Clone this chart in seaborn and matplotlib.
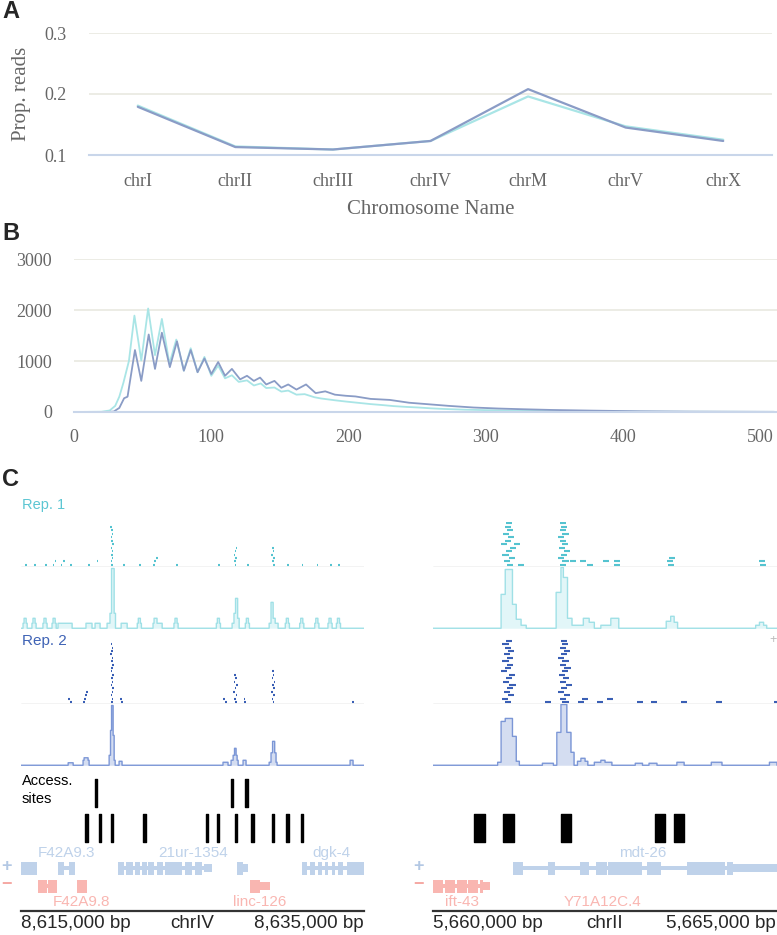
import numpy as np
import pandas as pd
import matplotlib
matplotlib.use("Agg")
import matplotlib.pyplot as plt
import seaborn as sns

sns.set_style("white")
plt.rcParams["font.family"] = ["Liberation Sans", "DejaVu Sans"]

# ---------------- Panel A data ----------------
chromosomes = ["chrI", "chrII", "chrIII", "chrIV", "chrM", "chrV", "chrX"]
prop_rep1 = [0.181, 0.114, 0.109, 0.123, 0.196, 0.147, 0.125]
prop_rep2 = [0.179, 0.113, 0.109, 0.123, 0.208, 0.145, 0.123]
prop_ticks = [0.1, 0.2, 0.3]

# ---------------- Panel B data ----------------
frag_len_rep1 = [0, 20, 26, 30, 33, 36, 40, 44, 49, 54, 59, 64, 69.5, 74.5, 80, 85, 90, 95, 100,
                 105, 110, 115, 120, 126, 131, 136, 140, 146, 151, 156, 162, 168, 175, 180, 190,
                 198, 207, 216, 225, 233, 242, 251, 260, 269, 285, 305, 320, 341, 360, 380, 400,
                 420, 450, 480, 510]
frag_cnt_rep1 = [0, 5, 30, 120, 300, 575, 1000, 1890, 1010, 2030, 1115, 1825, 945, 1420, 810, 1250,
                 780, 1080, 710, 910, 660, 720, 590, 620, 520, 560, 470, 480, 400, 420, 340, 350,
                 290, 265, 230, 205, 180, 155, 135, 115, 100, 88, 72, 60, 45, 34, 26, 20, 15, 11,
                 8, 6, 5, 4, 3]
frag_len_rep2 = [0, 25, 29, 33, 36.5, 39, 41, 44.4, 49, 54.4, 59, 64, 69.8, 75, 80, 85, 90, 95, 100,
                 105, 110, 115, 121, 126, 131, 135.5, 140, 146, 151, 156, 162, 169, 176, 183, 190,
                 198, 205, 216, 230, 244, 259, 273, 291, 309, 327, 348, 377, 413, 448, 480, 510]
frag_cnt_rep2 = [0, 0, 10, 80, 270, 300, 640, 1215, 610, 1520, 845, 1555, 880, 1385, 810, 1215, 780,
                 1050, 745, 980, 710, 845, 640, 710, 610, 675, 540, 610, 475, 540, 440, 540, 370,
                 405, 340, 318, 305, 257, 237, 182, 150, 120, 88, 68, 54, 40, 27, 14, 7, 5, 3]
frag_ticks = [0, 100, 200, 300, 400, 500]
count_ticks = [0, 1000, 2000, 3000]

# ---------------- Panel C data ----------------
left_chrom, left_start, left_end = "chrIV", 8615000, 8635000
right_chrom, right_start, right_end = "chrII", 5660000, 5665000
read_len = 90

# reads: (offset bp, stack row)
left_rep1_reads = [(233, 0), (758, 0), (1399, 0), (1860, 0), (1960, 1), (2315, 0), (2467, 1),
                   (2857, 0), (3924, 0), (4414, 1), (5970, 0), (6900, 0), (7700, 0), (7760, 1),
                   (7880, 2), (9040, 0), (11500, 0), (13200, 0), (15530, 0), (16370, 0),
                   (17240, 0), (18020, 0), (18500, 0)]
left_rep1_stacks = [[5270, 5230, 5300, 5250, 5280, 5220, 5310, 5260, 5240, 5290, 5250, 5210],
                    [12470, 12430, 12500, 12410, 12450, 12520],
                    [14700, 14640, 14720, 14600, 14680, 14650]]
left_rep2_reads = [(2860, 0), (2760, 1), (3620, 0), (3700, 1), (3760, 2), (3800, 3), (5830, 0),
                   (5780, 1), (11900, 0), (11790, 1), (13030, 0), (12990, 1), (19300, 0)]
left_rep2_stacks = [[5250, 5300, 5220, 5280, 5330, 5240, 5290, 5260, 5310, 5230, 5270, 5320,
                     5250, 5290, 5210, 5260, 5300, 5240],
                    [12480, 12420, 12520, 12380, 12460, 12540, 12400, 12500, 12440],
                    [14680, 14620, 14720, 14600, 14700, 14650, 14740, 14630, 14690, 14660]]
right_rep1_reads = [(1177, 6), (1235, 0), (1991, 1), (2137, 1), (2238, 0), (2471, 1), (2631, 0),
                    (2631, 1), (3416, 0), (3400, 1), (3430, 2), (4753, 0), (4740, 1)]
right_rep1_stacks = [[1080, 1030, 1100, 1010, 1060, 1120, 990, 1050, 1090, 1020, 1070, 1040, 1060],
                     [1840, 1880, 1820, 1860, 1900, 1830, 1870, 1850, 1810, 1880, 1840, 1860, 1850]]
right_rep2_reads = [(1628, 0), (2108, 0), (2170, 1), (2384, 0), (2529, 1), (2965, 0), (3169, 0),
                    (3605, 0), (4113, 0), (4956, 0)]
right_rep2_stacks = [[1050, 1000, 1090, 1030, 1070, 1110, 1020, 1060, 1100, 990, 1040, 1080, 1010,
                      1070, 1030, 1090, 1050, 1010, 1060],
                     [1880, 1840, 1900, 1820, 1860, 1930, 1850, 1890, 1830, 1870, 1910, 1850, 1880,
                      1820, 1860, 1900, 1840, 1870, 1860]]

# coverage: (start offset, end offset, value)
left_rep1_single = [233, 758, 1399, 1924, 6898, 9038, 11505, 13196, 15528, 16368, 17242, 18018, 18502]
left_rep1_cov = [(2157, 2974, 1), (3790, 4140, 1), (4315, 4606, 1), (5015, 5190, 1), (5190, 5277, 3),
                 (5277, 5423, 12), (5423, 5510, 3), (5831, 6181, 1), (7697, 8222, 1), (7755, 7930, 2),
                 (12303, 12420, 1), (12420, 12507, 3), (12507, 12624, 6), (12624, 12712, 2),
                 (14461, 14578, 1), (14578, 14694, 5.2), (14694, 14811, 2), (14811, 14986, 1)]
left_rep2_cov = [(2741, 3032, 0.5), (3615, 3965, 1), (3674, 3907, 1.5), (5131, 5219, 2),
                 (5219, 5277, 7), (5277, 5365, 12), (5365, 5423, 6), (5423, 5481, 1),
                 (5714, 5889, 0.8), (11779, 12070, 0.6), (12245, 12653, 1), (12362, 12595, 2),
                 (12449, 12537, 3.4), (12945, 13120, 1), (14461, 14927, 0.6), (14578, 14869, 2.5),
                 (14665, 14781, 4.8), (19184, 19359, 1)]
right_rep1_cov = [(988, 1047, 6.8), (1047, 1153, 11.8), (1153, 1206, 4.8), (1206, 1279, 1.8),
                  (1279, 1352, 0.6), (1788, 1856, 7.2), (1856, 1894, 12.2), (1894, 1952, 10.2),
                  (1952, 2016, 2), (2016, 2185, 0.6), (2185, 2267, 2), (2267, 2344, 1.2),
                  (2438, 2583, 0.6), (2583, 2699, 2), (3387, 3455, 1.4), (3455, 3503, 2.4),
                  (3503, 3551, 1.2), (4690, 4743, 0.6), (4743, 4801, 1.2), (4801, 4850, 0.6)]
right_rep2_cov = [(940, 988, 0.6), (988, 1047, 8.8), (1047, 1153, 9.4), (1153, 1206, 5.8),
                  (1206, 1254, 0.8), (1589, 1749, 0.4), (1798, 1856, 6.6), (1856, 1943, 12.2),
                  (1943, 2001, 6.6), (2001, 2049, 2.6), (2097, 2147, 0.8), (2147, 2209, 1.4),
                  (2209, 2249, 0.8), (2344, 2438, 0.6), (2438, 2500, 1), (2500, 2597, 0.6),
                  (2936, 3042, 0.4), (3140, 3252, 0.4), (3542, 3648, 0.6), (4041, 4196, 0.6),
                  (4888, 5000, 0.6)]

# accessible sites: (start offset, end offset)
left_sites_top = [(4290, 4460), (12220, 12390), (13090, 13260)]
left_sites_bottom = [(3760, 3930), (4520, 4690), (5220, 5390), (7140, 7310), (10760, 10930),
                     (11400, 11570), (12450, 12620), (13440, 13610), (14610, 14780),
                     (15430, 15600), (16300, 16470)]
right_sites_top = []
right_sites_bottom = [(596, 756), (1017, 1177), (1860, 2006), (3227, 3372), (3503, 3648)]

# gene models: (strand, exons, utrs)
left_genes = [
    ("+", [(0, 930)], []),
    ("+", [(2160, 2500), (2800, 3150)], []),
    ("+", [(5656, 6006), (6123, 6531), (6648, 6939), (7056, 7347), (7405, 7755), (7930, 8280),
           (8397, 9388), (9563, 9971), (10146, 10554)], [(10671, 11137)]),
    ("+", [(12595, 12945)], [(12945, 13236)]),
    ("+", [(16385, 16677), (16852, 17143), (17317, 17551), (17726, 17901), (18134, 18309),
           (18484, 18776), (19009, 20000)], []),
    ("-", [(991, 1516), (1574, 2099)], []),
    ("-", [(3265, 3848)], []),
    ("-", [(13353, 13936)], [(13936, 14519)]),
]
right_genes = [
    ("+", [(1163, 1308), (1672, 1773), (2137, 2267), (2369, 2529), (2544, 3038), (3110, 3314),
           (3692, 4244), (4273, 4361)], [(4361, 5000)]),
    ("-", [(0, 145), (174, 320), (349, 494), (509, 654), (683, 727)], [(727, 828)]),
]
left_gene_labels = [("F42A9.3", "+", 2680), ("21ur-1354", "+", 10030), ("dgk-4", "+", 18130),
                    ("F42A9.8", "-", 3500), ("linc-126", "-", 13940)]
right_gene_labels = [("mdt-26", "+", 3052), ("ift-43", "-", 422), ("Y71A12C.4", "-", 2471)]

# ---------------- styling ----------------
C_REP1 = "#a9e5e6"
C_REP2 = "#8a9cc6"
GRID = "#ebebe3"
AXC = "#c9d6ea"
TXT = "#666666"
SERIF = "Liberation Serif"
READ1, READ2 = "#55c3d0", "#3a5fb5"
COV1_F, COV1_E = "#e2f6f8", "#9fe0e6"
COV2_F, COV2_E = "#d4ddf1", "#7b96d6"
PLUS_C, MINUS_C = "#bfd2ea", "#f9b6b1"

W, H = 777, 935
fig = plt.figure(figsize=(W / 100, H / 100), dpi=100)


def ax_px(x0, y0, x1, y1):
    return fig.add_axes([x0 / W, 1 - y1 / H, (x1 - x0) / W, (y1 - y0) / H])


# ---------------- Panel A ----------------
axA = ax_px(89, 33, 772, 155)
dfA = pd.DataFrame({
    "idx": list(range(len(chromosomes))) * 2,
    "prop": prop_rep1 + prop_rep2,
    "rep": ["Rep1"] * len(chromosomes) + ["Rep2"] * len(chromosomes),
})
sns.lineplot(data=dfA, x="idx", y="prop", hue="rep", palette={"Rep1": C_REP1, "Rep2": C_REP2},
             ax=axA, legend=False, lw=1.6)
axA.set_xlim(-0.5, len(chromosomes) - 0.5)
axA.set_ylim(prop_ticks[0], prop_ticks[-1])
axA.set_xticks(range(len(chromosomes)))
axA.set_xticklabels(chromosomes, family=SERIF)
axA.set_xticks(np.arange(-0.5, len(chromosomes), 1), minor=True)
axA.set_yticks(prop_ticks)
axA.set_yticklabels([f"{t:.1f}" for t in prop_ticks], family=SERIF)
axA.tick_params(axis="x", which="major", length=0, pad=13, labelsize=13, labelcolor=TXT)
axA.tick_params(axis="x", which="minor", length=9.5, width=1.1, color=AXC)
axA.tick_params(axis="y", length=0, pad=16, labelsize=13, labelcolor=TXT)
for s in ["left", "top", "right"]:
    axA.spines[s].set_visible(False)
axA.spines["bottom"].set_color(AXC)
axA.spines["bottom"].set_linewidth(1.5)
axA.grid(axis="y", color=GRID, lw=1.3)
axA.set_axisbelow(True)
axA.set_xlabel("Chromosome Name", family=SERIF, fontsize=15, color=TXT)
axA.xaxis.set_label_coords(0.5, -(210 - 155) / (155 - 33))
axA.xaxis.label.set_va("center")
axA.set_ylabel("Prop. reads", family=SERIF, fontsize=15, color=TXT)
axA.yaxis.set_label_coords(-(89 - 22) / (772 - 89), 0.5)
axA.yaxis.label.set_va("center")

# ---------------- Panel B ----------------
axB = ax_px(74, 259, 777, 412)
dfB = pd.DataFrame({
    "len": frag_len_rep1 + frag_len_rep2,
    "cnt": frag_cnt_rep1 + frag_cnt_rep2,
    "rep": ["Rep1"] * len(frag_len_rep1) + ["Rep2"] * len(frag_len_rep2),
})
sns.lineplot(data=dfB, x="len", y="cnt", hue="rep", palette={"Rep1": C_REP1, "Rep2": C_REP2},
             ax=axB, legend=False, lw=1.3)
axB.set_xlim(0, 512)
axB.set_ylim(count_ticks[0], count_ticks[-1])
axB.set_xticks(frag_ticks)
axB.set_xticklabels([str(t) for t in frag_ticks], family=SERIF)
axB.set_yticks(count_ticks)
axB.set_yticklabels([str(t) for t in count_ticks], family=SERIF)
axB.tick_params(axis="x", length=9.5, width=1.1, color=AXC, pad=3, labelsize=13, labelcolor=TXT)
axB.tick_params(axis="y", length=0, pad=16, labelsize=13, labelcolor=TXT)
for s in ["left", "top", "right"]:
    axB.spines[s].set_visible(False)
axB.spines["bottom"].set_color(AXC)
axB.spines["bottom"].set_linewidth(1.5)
axB.grid(axis="y", color=GRID, lw=1.3)
axB.set_axisbelow(True)
axB.set_xlabel("")
axB.set_ylabel("")

# ---------------- Panel letters ----------------
for letter, ypx in [("A", 12), ("B", 233), ("C", 479)]:
    fig.text(2 / W, 1 - ypx / H, letter, fontsize=17, fontweight="bold", va="center", ha="left")


# ---------------- Panel C ----------------
def coverage_profile(segments, span, step):
    x = np.arange(0, span + step, step)
    y = np.zeros(len(x))
    for s, e, v in segments:
        m = (x >= s) & (x < e)
        y[m] = np.maximum(y[m], v)
    return x, y


def draw_reads(ax, start, span, reads, stacks, color, nrows):
    allreads = list(reads)
    for st in stacks:
        allreads += [(p, r) for r, p in enumerate(st)]
    for p, r in allreads:
        ax.hlines(r + 0.6, start + p, start + p + read_len, color=color, lw=1.5)
    ax.axhline(0, color="#c5c5c5", lw=1.0)
    ax.set_xlim(start, start + span)
    ax.set_ylim(0, nrows)
    ax.set_axis_off()


def draw_cov(ax, start, span, segments, step, fcol, ecol):
    x, y = coverage_profile(segments, span, step)
    ax.fill_between(start + x, y, step="post", color=fcol, lw=0)
    ax.step(start + x, y, where="post", color=ecol, lw=1.0)
    ax.set_xlim(start, start + span)
    ax.set_ylim(-0.15, 12.3)
    ax.set_axis_off()


def draw_sites(ax, start, span, top, bottom):
    ax.broken_barh([(start + s, e - s) for s, e in top], (779, 28), color="black")
    ax.broken_barh([(start + s, e - s) for s, e in bottom], (814, 28), color="black")
    ax.set_xlim(start, start + span)
    ax.set_ylim(845, 775)
    ax.set_axis_off()


def draw_genes(ax, start, span, genes, labels):
    rows = {"+": 868, "-": 886}
    cols = {"+": PLUS_C, "-": MINUS_C}
    lrow = {"+": 853, "-": 902}
    for strand, exons, utrs in genes:
        yc = rows[strand]
        c = cols[strand]
        parts = exons + utrs
        lo = min(p[0] for p in parts)
        hi = max(p[1] for p in parts)
        ax.broken_barh([(start + lo, hi - lo)], (yc - 2, 4), color=c, lw=0)
        ax.broken_barh([(start + s, e - s) for s, e in exons], (yc - 6.5, 13), color=c, lw=0)
        if utrs:
            ax.broken_barh([(start + s, e - s) for s, e in utrs], (yc - 4, 8), color=c, lw=0)
    for name, strand, pos in labels:
        ax.text(start + pos, lrow[strand], name, ha="center", va="center", fontsize=11,
                color=cols[strand])
    ax.set_xlim(start, start + span)
    ax.set_ylim(911, 845)
    for s in ["left", "top", "right"]:
        ax.spines[s].set_visible(False)
    ax.spines["bottom"].set_color("#333333")
    ax.spines["bottom"].set_linewidth(1.6)
    ax.set_xticks([])
    ax.set_yticks([])
    ax.patch.set_alpha(0)


panels = [
    (21, 364, left_chrom, left_start, left_end, 10,
     left_rep1_reads, left_rep1_stacks, left_rep2_reads, left_rep2_stacks,
     left_rep1_cov, left_rep2_cov, left_sites_top, left_sites_bottom, left_genes, left_gene_labels),
    (433, 777, right_chrom, right_start, right_end, 5,
     right_rep1_reads, right_rep1_stacks, right_rep2_reads, right_rep2_stacks,
     right_rep1_cov, right_rep2_cov, right_sites_top, right_sites_bottom, right_genes,
     right_gene_labels),
]

for (x0, x1, chrom, g0, g1, step, r1, s1, r2, s2, c1, c2, st, sb, genes, glabels) in panels:
    span = g1 - g0
    if chrom == left_chrom:
        c1 = c1 + [seg for c in left_rep1_single
                   for seg in ((c - 120, c + 120, 1), (c - 60, c + 60, 2))]
    draw_reads(ax_px(x0, 522, x1, 567), g0, span, r1, s1, READ1, 13)
    draw_cov(ax_px(x0, 567, x1, 629), g0, span, c1, step, COV1_F, COV1_E)
    draw_reads(ax_px(x0, 636, x1, 704), g0, span, r2, s2, READ2, 20)
    draw_cov(ax_px(x0, 704, x1, 766), g0, span, c2, step, COV2_F, COV2_E)
    draw_sites(ax_px(x0, 775, x1, 845), g0, span, st, sb)
    draw_genes(ax_px(x0, 845, x1, 911), g0, span, genes, glabels)
    # coordinate labels
    fig.text(x0 / W, 1 - 923 / H, f"{g0:,} bp", ha="left", va="center", fontsize=13.5)
    fig.text(min(x1, 776) / W, 1 - 923 / H, f"{g1:,} bp", ha="right", va="center", fontsize=13.5)
    fig.text((x0 + x1) / 2 / W, 1 - 923 / H, chrom, ha="center", va="center", fontsize=13.5)
    # strand signs
    fig.text((x0 - 14) / W, 1 - 867 / H, "+", ha="center", va="center", fontsize=13,
             fontweight="bold", color="#b3c8e4")
    fig.text((x0 - 14) / W, 1 - 885 / H, "\u2212", ha="center", va="center", fontsize=13,
             fontweight="bold", color="#f5a9a4")

fig.text(22 / W, 1 - 505 / H, "Rep. 1", fontsize=10.5, color="#5cc6d3", va="center", ha="left")
fig.text(22 / W, 1 - 641 / H, "Rep. 2", fontsize=11, color="#3f63b5", va="center", ha="left")
fig.text(22 / W, 1 - 790 / H, "Access.\nsites", fontsize=10.5, color="black", va="center",
         ha="left", linespacing=1.35)
fig.text(773 / W, 1 - 640 / H, "+", fontsize=9, color="#bbbbbb", va="center", ha="center")

fig.savefig("out.png", dpi=100)
